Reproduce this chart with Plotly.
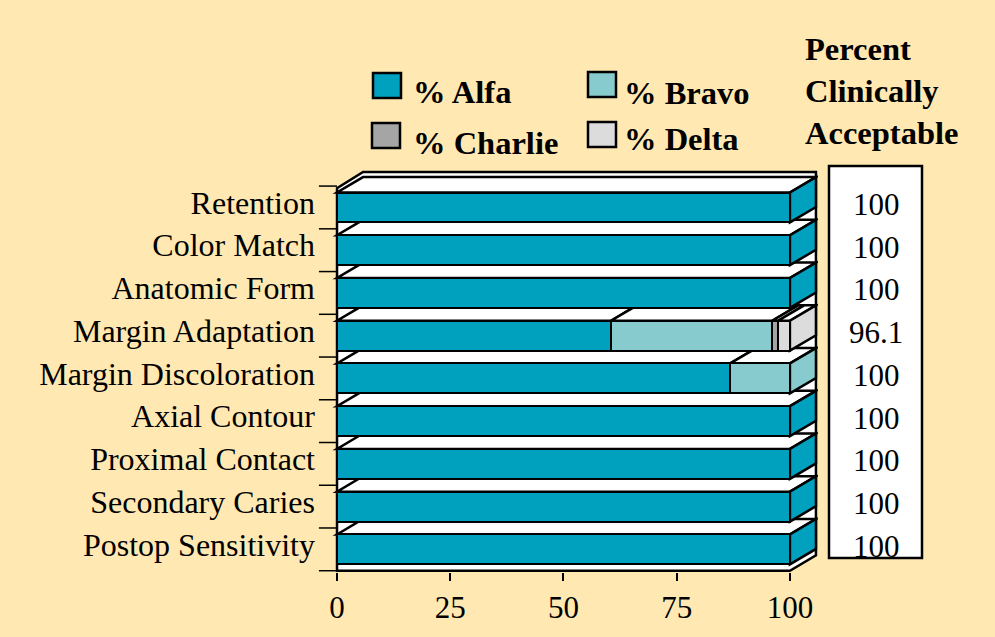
import plotly.graph_objects as go

# ---------------- data ----------------
categories = ["Retention", "Color Match", "Anatomic Form", "Margin Adaptation",
              "Margin Discoloration", "Axial Contour", "Proximal Contact",
              "Secondary Caries", "Postop Sensitivity"]
alfa = [100, 100, 100, 60.5, 86.8, 100, 100, 100, 100]
bravo = [0, 0, 0, 35.6, 13.2, 0, 0, 0, 0]
charlie = [0, 0, 0, 1.3, 0, 0, 0, 0, 0]
delta = [0, 0, 0, 2.6, 0, 0, 0, 0, 0]
acceptable = [100, 100, 100, 96.1, 100, 100, 100, 100, 100]
series_names = ["% Alfa", "% Bravo", "% Charlie", "% Delta"]
x_ticks = [0, 25, 50, 75, 100]
header_lines = ["Percent", "Clinically", "Acceptable"]

# ---------------- style ----------------
colors = ["#00A0BF", "#88CBCE", "#A5A5A5", "#DCDCDC"]
BG = "#FFE8B1"
FONT = "Liberation Serif, Times New Roman, serif"
BAR_W = 0.7
H = BAR_W / 2
DX = 5.75       # 3-D depth in x units
DY = 0.36       # 3-D depth in category units
LW = 2.5

W, HGT = 995, 637
ML, MR, MT, MB = 318, 177, 169, 65
PW = W - ML - MR
PH = HGT - MT - MB


def px(xp):
    return (xp - ML) / PW


def py(yp):
    return (HGT - MB - yp) / PH


n = len(categories)
ypos = [n - 1 - i for i in range(n)]
series = [alfa, bravo, charlie, delta]
xmax = x_ticks[-1]

fig = go.Figure()
for name, vals, col in zip(series_names, series, colors):
    fig.add_trace(go.Bar(
        orientation="h", y=ypos, x=[v if v > 0 else None for v in vals],
        width=BAR_W, name=name, showlegend=False,
        marker=dict(color=col, line=dict(color="black", width=LW)),
        hovertemplate="%{x}<extra>" + name + "</extra>",
    ))

shapes = []
# white walls / floor
y0 = -0.5
top_front = (n - 1) + 0.45
top_back = top_front + DY + 0.02
wall = (f"M 0,{y0} L {xmax},{y0} L {xmax + DX},{y0 + DY} L {xmax + DX},{top_back} "
        f"L {DX},{top_back} L 0,{top_front} Z")
shapes.append(dict(type="path", path=wall, xref="x", yref="y", layer="below",
                   fillcolor="white", line=dict(color="black", width=LW)))

# 3-D top and side faces, bottom row first
for i in sorted(range(n), key=lambda k: ypos[k]):
    yc = ypos[i]
    start = 0
    last_col = None
    last_end = 0
    for vals, col in zip(series, colors):
        v = vals[i]
        if v <= 0:
            continue
        end = start + v
        top = (f"M {start},{yc + H} L {end},{yc + H} L {end + DX},{yc + H + DY} "
               f"L {start + DX},{yc + H + DY} Z")
        shapes.append(dict(type="path", path=top, xref="x", yref="y", layer="below",
                           fillcolor="white", line=dict(color="black", width=LW)))
        start = end
        last_col = col
        last_end = end
    side = (f"M {last_end},{yc - H} L {last_end + DX},{yc - H + DY} "
            f"L {last_end + DX},{yc + H + DY} L {last_end},{yc + H} Z")
    shapes.append(dict(type="path", path=side, xref="x", yref="y", layer="below",
                       fillcolor=last_col, line=dict(color="black", width=LW)))

# y tick marks at band boundaries
for k in range(n + 1):
    shapes.append(dict(type="line", xref="x", yref="y", x0=-4, x1=0,
                       y0=k - 0.5, y1=k - 0.5, layer="below",
                       line=dict(color="black", width=1.5)))

# value box
shapes.append(dict(type="rect", xref="paper", yref="paper",
                   x0=px(829), x1=px(922), y0=py(558), y1=py(166),
                   fillcolor="white", line=dict(color="black", width=2.5)))

annotations = []
for i in range(n):
    annotations.append(dict(xref="paper", yref="y", x=px(876), y=ypos[i],
                            text=f"{acceptable[i]:g}", showarrow=False,
                            xanchor="center", yanchor="middle", yshift=3,
                            font=dict(family=FONT, size=31, color="black")))

# header
for j, (t, yy) in enumerate(zip(header_lines, [49, 91, 133])):
    annotations.append(dict(xref="paper", yref="paper", x=px(803), y=py(yy),
                            text=f"<b>{t}</b>", showarrow=False,
                            xanchor="left", yanchor="middle",
                            font=dict(family=FONT, size=32.5, color="black")))

# manual legend
box_pos = [(373, 73), (588, 72), (372, 123), (588, 122)]
text_pos = [(411, 92), (622, 93), (411, 143), (622, 139)]
for name, col, (bx, by), (tx, ty) in zip(series_names, colors, box_pos, text_pos):
    shapes.append(dict(type="rect", xref="paper", yref="paper",
                       x0=px(bx), x1=px(bx + 28), y0=py(by + 25), y1=py(by),
                       fillcolor=col, line=dict(color="black", width=2.5)))
    annotations.append(dict(xref="paper", yref="paper", x=px(tx), y=py(ty),
                            text=f"<b>{name}</b>", showarrow=False,
                            xanchor="left", yanchor="middle",
                            font=dict(family=FONT, size=32.5, color="black")))

fig.update_layout(
    width=W, height=HGT,
    margin=dict(l=ML, r=MR, t=MT, b=MB, pad=0),
    paper_bgcolor=BG, plot_bgcolor=BG,
    barmode="stack", bargap=0,
    showlegend=False,
    shapes=shapes, annotations=annotations,
    xaxis=dict(range=[-4.2, 106.2], tickvals=x_ticks, ticktext=[str(t) for t in x_ticks],
               ticks="outside", ticklen=8, tickwidth=1.5, tickcolor="black",
               showgrid=False, zeroline=False, showline=False,
               tickfont=dict(family=FONT, size=31, color="black")),
    yaxis=dict(range=[-0.53, 8.9], tickvals=ypos, ticktext=categories,
               ticks="", showgrid=False, zeroline=False, showline=False,
               ticklabelstandoff=2, ticklabelshift=-5,
               tickfont=dict(family=FONT, size=32, color="black")),
)

fig.write_html("out.html", config={"displayModeBar": False},
               post_script="document.body.style.margin='0';"
                           "document.body.style.background='" + BG + "';")
